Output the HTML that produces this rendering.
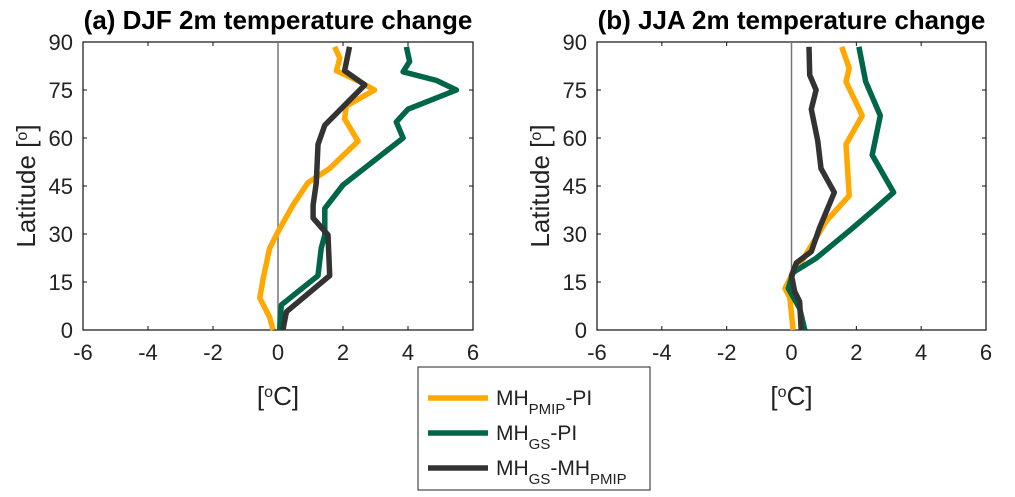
<!DOCTYPE html>
<html><head><meta charset="utf-8"><style>
body{margin:0;background:#fff;}
svg{display:block;font-family:"Liberation Sans",sans-serif;}
</style></head><body>
<svg id="chart" width="1015" height="497" viewBox="0 0 1015 497"></svg>
<script>
const lats_a_pmip=[0,4,10,16,25.5,30.7,39,46,50.5,59,66,70,75,77.6,81,85,88.5];
const vals_a_pmip=[-0.15,-0.26,-0.56,-0.46,-0.26,0,0.46,0.92,1.59,2.46,2.05,2.1,2.97,2.51,1.8,1.9,1.74];
const lats_a_gs=[0,7.8,17,25.5,29.7,38,45.3,60,65,69,75,78,80.7,83.9,88.5];
const vals_a_gs=[0.05,0.1,1.23,1.33,1.44,1.44,2.0,3.85,3.64,4.0,5.49,4.87,3.85,4.05,3.95];
const lats_a_diff=[0,5.7,17,29.7,35,39,46,58,64,76.6,81,88.5];
const vals_a_diff=[0.15,0.26,1.59,1.54,1.08,1.08,1.18,1.23,1.44,2.67,2.05,2.2];
const lats_b_pmip=[0,10,13,17,22,34,42,58,67,77.6,81.8,88.5];
const vals_b_pmip=[0.05,-0.05,-0.2,0,0.35,1.07,1.78,1.68,2.18,1.68,1.78,1.55];
const lats_b_gs=[0,6.8,13,18,22.4,31.8,38,43,54.7,67,77.6,88.5];
const vals_b_gs=[0.41,0.25,-0.1,0.05,0.76,1.88,2.59,3.15,2.49,2.74,2.29,2.08];
const lats_b_diff=[0,8.9,12,17,21,24.5,31.8,43,50.5,59,69,75,79.7,88.5];
const vals_b_diff=[0.3,0.25,0.1,0,0.15,0.61,0.86,1.32,0.91,0.81,0.61,0.76,0.56,0.54];
const xTicks=[-6,-4,-2,0,2,4,6];
const yTicks=[0,15,30,45,60,75,90];
const titles=["(a) DJF 2m temperature change","(b) JJA 2m temperature change"];

const NS="http://www.w3.org/2000/svg";
const svg=document.getElementById('chart');
function mk(t,a,p){const e=document.createElementNS(NS,t);for(const k in a)e.setAttribute(k,a[k]);(p||svg).appendChild(e);return e;}
const ORANGE="#ffa800",GREEN="#00664a",BLACK="#333333";
const panels=[
 {x0:83,x1:473,series:[[lats_a_pmip,vals_a_pmip,ORANGE],[lats_a_gs,vals_a_gs,GREEN],[lats_a_diff,vals_a_diff,BLACK]]},
 {x0:597,x1:986,series:[[lats_b_pmip,vals_b_pmip,ORANGE],[lats_b_gs,vals_b_gs,GREEN],[lats_b_diff,vals_b_diff,BLACK]]}
];
const yTop=42,yBot=330;
panels.forEach((p,i)=>{
 const g=mk('g',{});
 
 
 const xs=v=>p.x0+(v+6)/12*(p.x1-p.x0);
 const ys=l=>yBot-l/90*(yBot-yTop);
 mk('rect',{x:p.x0,y:yTop,width:p.x1-p.x0,height:yBot-yTop,fill:'#fff',stroke:'#111','stroke-width':1.2},g);
 xTicks.forEach(t=>{
  const x=xs(t);
  mk('line',{x1:x,x2:x,y1:yBot,y2:yBot-4,stroke:'#111'},g);
  mk('line',{x1:x,x2:x,y1:yTop,y2:yTop+4,stroke:'#111'},g);
  const tx=mk('text',{x:x,y:yBot+30,'text-anchor':'middle','font-size':22,fill:'#222'},g);
  tx.textContent=t;
 });
 yTicks.forEach(t=>{
  const y=ys(t);
  mk('line',{x1:p.x0,x2:p.x0+4,y1:y,y2:y,stroke:'#111'},g);
  mk('line',{x1:p.x1,x2:p.x1-4,y1:y,y2:y,stroke:'#111'},g);
  const tx=mk('text',{x:p.x0-10,y:y+8,'text-anchor':'end','font-size':22,fill:'#222'},g);
  tx.textContent=t;
 });
 mk('line',{x1:xs(0),x2:xs(0),y1:yTop,y2:yBot,stroke:'#777','stroke-width':1.5},g);
 p.series.forEach((s,j)=>{
  const d=s[0].map((l,k)=>(k?'L':'M')+xs(s[1][k]).toFixed(1)+','+ys(l).toFixed(1)).join(' ');
  const path=mk('path',{d:d,fill:'none',stroke:s[2],'stroke-width':5.5,'stroke-linejoin':'round'},g);
  
  
 });
 const ti=mk('text',{x:(p.x0+p.x1)/2,y:29,'text-anchor':'middle','font-size':26,'font-weight':'bold',fill:'#000'},g);
 
 
 ti.textContent=titles[i];
 const xl=mk('text',{x:(p.x0+p.x1)/2,y:405,'text-anchor':'middle','font-size':26,fill:'#222'},g);
 
 
 xl.innerHTML='[<tspan baseline-shift="super" font-size="16">o</tspan>C]';
 const yl=mk('text',{x:0,y:0,'text-anchor':'middle','font-size':26,fill:'#222',transform:`translate(${p.x0-48},186) rotate(-90)`},g);
 
 
 yl.innerHTML='Latitude [<tspan baseline-shift="super" font-size="16">o</tspan>]';
});
const lg=mk('g',{});


mk('rect',{x:418,y:367,width:232,height:123,fill:'#fff',stroke:'#222','stroke-width':1},lg);
const entries=[[ORANGE,'MH<tspan baseline-shift="sub" font-size="15">PMIP</tspan>-PI'],[GREEN,'MH<tspan baseline-shift="sub" font-size="15">GS</tspan>-PI'],[BLACK,'MH<tspan baseline-shift="sub" font-size="15">GS</tspan>-MH<tspan baseline-shift="sub" font-size="15">PMIP</tspan>']];
entries.forEach((e,k)=>{
 const y=398+k*35;
 const ln=mk('line',{x1:428,x2:488,y1:y,y2:y,stroke:e[0],'stroke-width':5.5},lg);
 
 
 const t=mk('text',{x:496,y:y+7,'font-size':21,fill:'#222'},lg);
 
 
 t.innerHTML=e[1];
});
</script>
</body></html>
